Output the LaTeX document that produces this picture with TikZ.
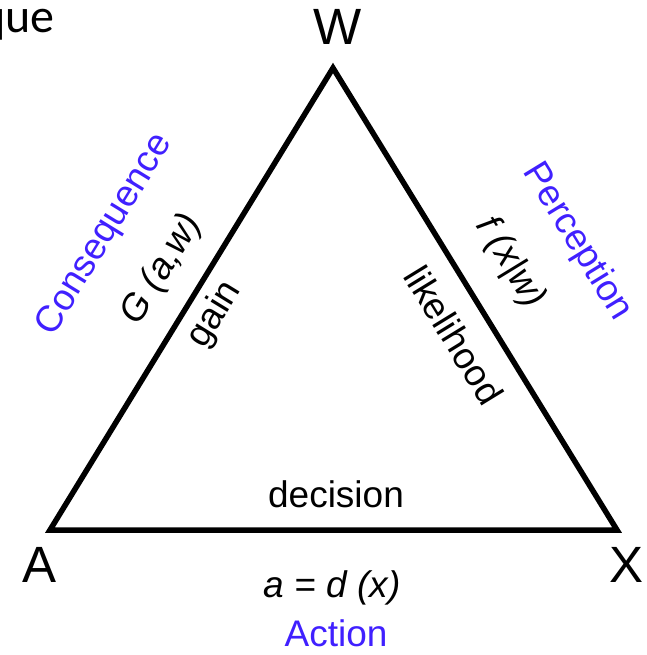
\documentclass[tikz,border=0pt]{standalone}
\usepackage{fontspec}
\setmainfont{Liberation Sans}
\newfontfamily\slidefont{Carlito}
\usepackage{xcolor}
\definecolor{roleblue}{RGB}{64,32,255}

\begin{document}
\begin{tikzpicture}[x=1pt, y=-1pt,
    side/.style={line width=5.5pt, line join=miter},
    cornerlabel/.style={font=\fontsize{51}{60}\selectfont, inner sep=0pt, anchor=base},
    edgelabel/.style={font=\fontsize{37}{44}\selectfont, inner sep=0pt},
    rolelabel/.style={edgelabel, text=roleblue}]
    \useasboundingbox (0,0) rectangle (646,655);
    % Slide title fragment
    \node[font=\slidefont\fontsize{48}{56}\selectfont, inner sep=0pt, anchor=base east] (title) at (55,33) {que};
    % Triangle
    \coordinate (w) at (333,68);
    \coordinate (a) at (50,530);
    \coordinate (x) at (617,530);
    \draw[side] (w) -- (x) -- (a) -- cycle;
    % Corners
    \node[cornerlabel] (wlabel) at (338,45) {W};
    \node[cornerlabel] (alabel) at (40,582) {A};
    \node[cornerlabel] (xlabel) at (626,582) {X};
    % Left side - consequence
    \node[rolelabel, rotate=58.5] (consequence) at (105,235) {Consequence};
    \node[edgelabel, rotate=58.5, font=\fontsize{37}{44}\selectfont\itshape] (gainfn) at (162,270) {G (a,w)};
    \node[edgelabel, rotate=58.5] (gain) at (215,315) {gain};
    % Right side - perception
    \node[rolelabel, rotate=-58.5] (perception) at (577,242) {Perception};
    \node[edgelabel, rotate=-58.5, font=\fontsize{37}{44}\selectfont\itshape] (likefn) at (510,263) {f (x|w)};
    \node[edgelabel, rotate=-58.5] (likelihood) at (454,335) {likelihood};
    % Bottom side - action
    \node[edgelabel, anchor=base] (decision) at (336,507) {decision};
    \node[edgelabel, anchor=base, font=\fontsize{37}{44}\selectfont\itshape] (rule) at (332,597) {a = d (x)};
    \node[rolelabel, anchor=base] (action) at (336,646) {Action};
\end{tikzpicture}
\end{document}
